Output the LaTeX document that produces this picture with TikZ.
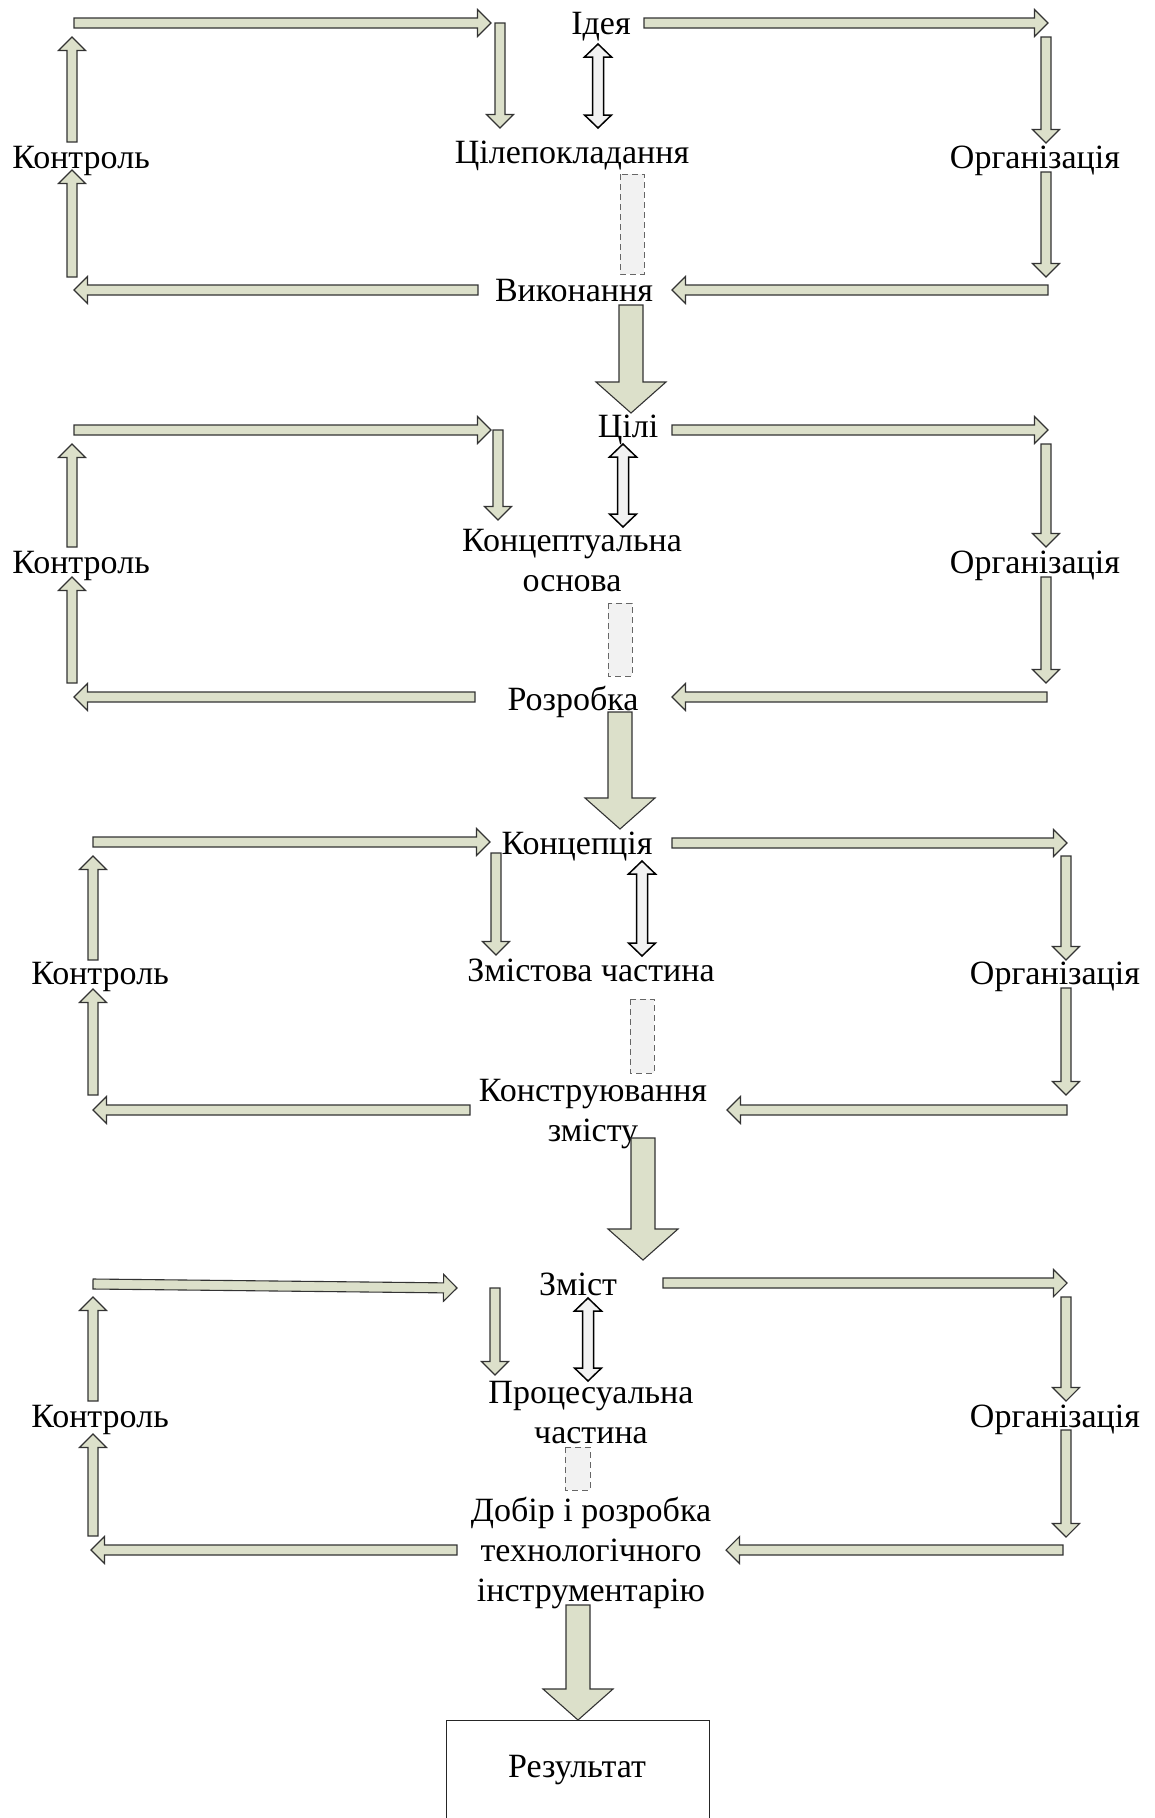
\documentclass[tikz,border=0pt]{standalone}
\usepackage{fontspec}
\setmainfont{Liberation Serif}
\usetikzlibrary{calc}
\definecolor{olivefill}{HTML}{DCE0CA}
\definecolor{dashfill}{HTML}{F2F2F2}
\tikzset{
 arrowbody/.style={draw=black!80, line width=1.1pt, fill=olivefill, line join=miter},
 dblbody/.style={draw=black, line width=1.5pt, fill=dashfill},
 dashbox/.style={draw=black!60, line width=0.9pt, dash pattern=on 6pt off 4pt, fill=dashfill},
 lbl/.style={anchor=north, inner sep=0pt, font=\fontsize{34}{40}\selectfont, align=center},
 resbox/.style={draw=black!85, line width=0.9pt},
}
\newcommand\blockarrow[6][arrowbody]{%
  \coordinate (bac) at ($(#3)!#6!(#2)$);
  \draw[#1] ($(#2)!#4!90:(#3)$) -- ($(bac)!#4!-90:(#2)$) -- ($(bac)!#5!-90:(#2)$) -- (#3) -- ($(bac)!#5!90:(#2)$) -- ($(bac)!#4!90:(#2)$) -- ($(#2)!#4!-90:(#3)$) -- cycle;}
\newcommand\thinarr[2]{\blockarrow{#1}{#2}{5pt}{13.5pt}{13.5pt}}
\newcommand\bigarr[2]{\blockarrow{#1}{#2}{12pt}{35pt}{31pt}}
\newcommand\dblarr[2]{%
  \coordinate (dba) at ($(#1)!13pt!(#2)$);
  \coordinate (dbb) at ($(#2)!13pt!(#1)$);
  \draw[dblbody] (#1) -- ($(dba)!13.5pt!90:(#2)$) -- ($(dba)!5.5pt!90:(#2)$) -- ($(dbb)!5.5pt!-90:(#1)$) -- ($(dbb)!13.5pt!-90:(#1)$) -- (#2) -- ($(dbb)!13.5pt!90:(#1)$) -- ($(dbb)!5.5pt!90:(#1)$) -- ($(dba)!5.5pt!-90:(#2)$) -- ($(dba)!13.5pt!-90:(#2)$) -- cycle;}
\begin{document}
\begin{tikzpicture}[x=1pt,y=-1pt]
\useasboundingbox (0,0) rectangle (1155,1818);
% ---------- Section 1 ----------
\node[lbl] (idea) at (601,12) {Ідея};
\node[lbl] (goal) at (572,141) {Цілепокладання};
\node[lbl] (org1) at (1035,146) {Організація};
\node[lbl] (exe) at (574,279) {Виконання};
\node[lbl] (ctl1) at (81,146) {Контроль};
\coordinate (a1s) at (74,23);   \coordinate (a1e) at (491,23);
\coordinate (a2s) at (500,23);  \coordinate (a2e) at (500,128);
\coordinate (d1s) at (598,44);  \coordinate (d1e) at (598,128);
\coordinate (a3s) at (644,23);  \coordinate (a3e) at (1048,23);
\coordinate (a4s) at (1046,37); \coordinate (a4e) at (1046,143);
\coordinate (a5s) at (1046,172);\coordinate (a5e) at (1046,277);
\coordinate (a6s) at (1048,290);\coordinate (a6e) at (672,290);
\coordinate (a7s) at (478,290); \coordinate (a7e) at (74,290);
\coordinate (a8s) at (72,277);  \coordinate (a8e) at (72,170);
\coordinate (a9s) at (72,142);  \coordinate (a9e) at (72,37);
\coordinate (B1s) at (631,305); \coordinate (B1e) at (631,413);
\thinarr{a1s}{a1e}\thinarr{a2s}{a2e}\dblarr{d1s}{d1e}
\thinarr{a3s}{a3e}\thinarr{a4s}{a4e}\thinarr{a5s}{a5e}
\thinarr{a6s}{a6e}\thinarr{a7s}{a7e}\thinarr{a8s}{a8e}\thinarr{a9s}{a9e}
\draw[dashbox] (620,174) rectangle (644,274);
\bigarr{B1s}{B1e}
% ---------- Section 2 ----------
\node[lbl] (aims) at (628,415) {Цілі};
\node[lbl] (concb) at (572,529) {Концептуальна\\основа};
\node[lbl] (org2) at (1035,551) {Організація};
\node[lbl] (dev) at (573,686) {Розробка};
\node[lbl] (ctl2) at (81,551) {Контроль};
\coordinate (b1s) at (74,430);   \coordinate (b1e) at (491,430);
\coordinate (b2s) at (498,430);  \coordinate (b2e) at (498,520);
\coordinate (d2s) at (623,444);  \coordinate (d2e) at (623,527);
\coordinate (b3s) at (672,430);  \coordinate (b3e) at (1048,430);
\coordinate (b4s) at (1046,444); \coordinate (b4e) at (1046,547);
\coordinate (b5s) at (1046,577); \coordinate (b5e) at (1046,683);
\coordinate (b6s) at (1047,697); \coordinate (b6e) at (672,697);
\coordinate (b7s) at (475,697);  \coordinate (b7e) at (74,697);
\coordinate (b8s) at (72,683);   \coordinate (b8e) at (72,577);
\coordinate (b9s) at (72,547);   \coordinate (b9e) at (72,444);
\coordinate (B2s) at (620,712);  \coordinate (B2e) at (620,829);
\thinarr{b1s}{b1e}\thinarr{b2s}{b2e}\dblarr{d2s}{d2e}
\thinarr{b3s}{b3e}\thinarr{b4s}{b4e}\thinarr{b5s}{b5e}
\thinarr{b6s}{b6e}\thinarr{b7s}{b7e}\thinarr{b8s}{b8e}\thinarr{b9s}{b9e}
\draw[dashbox] (608,603) rectangle (632,676);
\bigarr{B2s}{B2e}
% ---------- Section 3 ----------
\node[lbl] (concept) at (577,832) {Концепція};
\node[lbl] (content) at (591,959) {Змістова частина};
\node[lbl] (org3) at (1055,962) {Організація};
\node[lbl] (constr) at (593,1079) {Конструювання\\змісту};
\node[lbl] (ctl3) at (100,962) {Контроль};
\coordinate (c1s) at (93,842);    \coordinate (c1e) at (490,842);
\coordinate (c2s) at (496,853);   \coordinate (c2e) at (496,955);
\coordinate (d3s) at (642,861);   \coordinate (d3e) at (642,956);
\coordinate (c3s) at (672,843);   \coordinate (c3e) at (1067,843);
\coordinate (c4s) at (1066,856);  \coordinate (c4e) at (1066,960);
\coordinate (c5s) at (1066,988);  \coordinate (c5e) at (1066,1095);
\coordinate (c6s) at (1067,1110); \coordinate (c6e) at (727,1110);
\coordinate (c7s) at (470,1110);  \coordinate (c7e) at (93,1110);
\coordinate (c8s) at (93,1095);   \coordinate (c8e) at (93,989);
\coordinate (c9s) at (93,960);    \coordinate (c9e) at (93,856);
\coordinate (B3s) at (643,1138);  \coordinate (B3e) at (643,1260);
\thinarr{c1s}{c1e}\thinarr{c2s}{c2e}\dblarr{d3s}{d3e}
\thinarr{c3s}{c3e}\thinarr{c4s}{c4e}\thinarr{c5s}{c5e}
\thinarr{c6s}{c6e}\thinarr{c7s}{c7e}\thinarr{c8s}{c8e}\thinarr{c9s}{c9e}
\draw[dashbox] (630,999) rectangle (654,1073);
\bigarr{B3s}{B3e}
% ---------- Section 4 ----------
\node[lbl] (subst) at (578,1273) {Зміст};
\node[lbl] (proc) at (591,1381) {Процесуальна\\частина};
\node[lbl] (org4) at (1055,1405) {Організація};
\node[lbl] (tools) at (591,1497) {Добір і розробка\\технологічного\\інструментарію};
\node[lbl] (ctl4) at (100,1405) {Контроль};
\coordinate (e1s) at (93,1284);   \coordinate (e1e) at (457,1288);
\coordinate (e2s) at (495,1288);  \coordinate (e2e) at (495,1375);
\coordinate (d4s) at (588,1298);  \coordinate (d4e) at (588,1381);
\coordinate (e3s) at (663,1283);  \coordinate (e3e) at (1067,1283);
\coordinate (e4s) at (1066,1297); \coordinate (e4e) at (1066,1401);
\coordinate (e5s) at (1066,1430); \coordinate (e5e) at (1066,1537);
\coordinate (e6s) at (1063,1550); \coordinate (e6e) at (726,1550);
\coordinate (e7s) at (457,1550);  \coordinate (e7e) at (91,1550);
\coordinate (e8s) at (93,1536);   \coordinate (e8e) at (93,1434);
\coordinate (e9s) at (93,1401);   \coordinate (e9e) at (93,1297);
\coordinate (B4s) at (578,1605);  \coordinate (B4e) at (578,1720);
\thinarr{e1s}{e1e}\thinarr{e2s}{e2e}\dblarr{d4s}{d4e}
\thinarr{e3s}{e3e}\thinarr{e4s}{e4e}\thinarr{e5s}{e5e}
\thinarr{e6s}{e6e}\thinarr{e7s}{e7e}\thinarr{e8s}{e8e}\thinarr{e9s}{e9e}
\draw[dashbox] (565,1447) rectangle (590,1490);
\bigarr{B4s}{B4e}
% ---------- Result ----------
\draw[resbox] (446,1830) -- (446,1720) -- (709,1720) -- (709,1830);
\node[lbl] (res) at (577,1755) {Результат};
\end{tikzpicture}
\end{document}
